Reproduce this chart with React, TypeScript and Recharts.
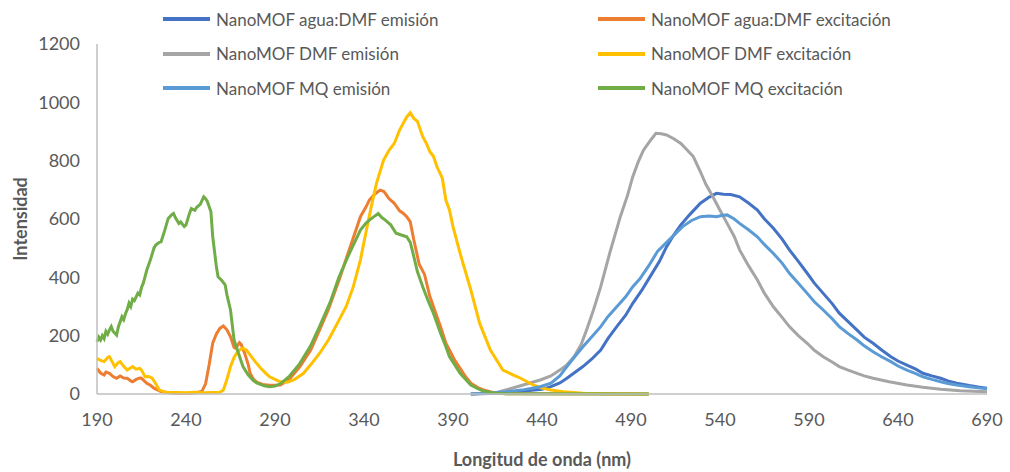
import { LineChart, Line, XAxis, YAxis, Legend } from "recharts";

// wavelength (nm) / intensity pairs
const aguaEmNm = [400, 410, 420, 430, 440, 445, 450, 454, 458, 463, 468, 473, 477, 482, 487, 491, 496, 501, 506, 510, 514, 518, 523, 529, 534, 538, 542, 546, 551, 556, 561, 565, 570, 575, 579, 584, 589, 593, 598, 603, 607, 612, 617, 621, 626, 631, 636, 640, 645, 650, 654, 659, 664, 668, 673, 680, 685, 690];
const aguaEmVal = [0, 2, 5, 10, 16, 25, 38, 54, 72, 94, 120, 151, 190, 231, 270, 311, 355, 405, 455, 505, 545, 580, 615, 654, 675, 688, 685, 684, 676, 655, 631, 600, 568, 530, 494, 455, 414, 380, 345, 310, 277, 248, 219, 195, 174, 150, 128, 113, 99, 85, 71, 62, 54, 45, 37, 29, 24, 20];

const aguaExcNm = [190, 192, 194, 195, 197, 199, 201, 203, 205, 207, 209, 210, 212, 214, 215, 217, 218, 220, 222, 224, 226, 229, 235, 240, 245, 249, 251, 253, 255, 257, 259, 261, 263, 265, 267, 268, 270, 271, 273, 275, 276, 278, 280, 283, 287, 293, 298, 304, 310, 315, 320, 326, 332, 338, 341, 343, 346, 349, 351, 352, 354, 357, 360, 362, 364, 366, 368, 371, 374, 377, 379, 383, 386, 388, 391, 394, 397, 400, 404, 407, 414, 420, 500];
const aguaExcVal = [88, 72, 65, 75, 71, 60, 54, 62, 55, 54, 45, 42, 50, 55, 54, 42, 37, 30, 20, 14, 8, 5, 2, 2, 3, 10, 35, 100, 174, 205, 225, 233, 220, 196, 160, 157, 176, 170, 139, 100, 71, 50, 40, 33, 30, 31, 50, 94, 150, 219, 290, 391, 500, 608, 640, 665, 685, 699, 695, 688, 670, 654, 628, 620, 608, 590, 528, 445, 410, 334, 300, 231, 174, 151, 115, 88, 60, 37, 22, 14, 3, 1, 0];

const dmfEmNm = [400, 405, 415, 426, 439, 445, 450, 454, 458, 462, 465, 469, 473, 478, 484, 488, 491, 494, 497, 501, 504, 507, 510, 514, 518, 521, 525, 529, 532, 536, 540, 544, 548, 551, 556, 561, 565, 570, 575, 579, 584, 589, 593, 598, 603, 607, 612, 617, 621, 626, 635, 645, 654, 664, 675, 690];
const dmfEmVal = [0, 2, 6, 25, 48, 62, 82, 100, 128, 170, 219, 290, 368, 482, 608, 680, 745, 795, 836, 870, 894, 892, 888, 875, 859, 840, 814, 762, 720, 676, 630, 585, 540, 494, 440, 391, 345, 299, 262, 231, 200, 174, 150, 128, 110, 94, 82, 71, 62, 54, 42, 31, 23, 16, 11, 8];

const dmfExcNm = [190, 192, 194, 196, 197, 199, 200, 202, 203, 205, 207, 209, 210, 212, 214, 215, 217, 219, 221, 223, 225, 227, 229, 235, 240, 245, 250, 255, 259, 261, 263, 265, 267, 269, 271, 272, 274, 276, 279, 282, 285, 287, 290, 293, 297, 301, 306, 310, 315, 320, 325, 330, 334, 338, 341, 344, 347, 351, 354, 357, 360, 362, 364, 366, 368, 370, 373, 375, 377, 379, 381, 384, 386, 388, 390, 394, 400, 405, 411, 418, 424, 428, 435, 440, 445, 452, 463, 475, 500];
const dmfExcVal = [122, 115, 111, 125, 128, 105, 94, 108, 111, 95, 82, 90, 94, 85, 88, 82, 59, 60, 54, 35, 14, 9, 6, 5, 4, 6, 4, 5, 6, 14, 50, 94, 125, 145, 155, 157, 150, 134, 110, 88, 70, 59, 50, 42, 40, 50, 71, 100, 139, 185, 242, 300, 368, 460, 551, 640, 722, 802, 835, 859, 905, 928, 950, 964, 945, 935, 882, 860, 831, 815, 779, 740, 665, 631, 574, 482, 357, 242, 151, 82, 65, 54, 31, 20, 14, 8, 3, 1, 0];

const mqEmNm = [400, 410, 420, 430, 439, 445, 450, 454, 458, 463, 468, 473, 477, 482, 487, 491, 495, 500, 505, 510, 515, 519, 524, 529, 534, 538, 541, 544, 548, 551, 556, 561, 565, 570, 575, 579, 584, 589, 593, 598, 603, 607, 612, 617, 621, 626, 631, 636, 640, 645, 650, 654, 659, 664, 668, 673, 680, 685, 690];
const mqEmVal = [0, 3, 8, 15, 25, 37, 62, 94, 125, 162, 196, 231, 265, 299, 333, 368, 395, 440, 490, 520, 550, 574, 595, 608, 610, 608, 612, 614, 600, 585, 563, 539, 512, 482, 448, 414, 380, 345, 316, 288, 258, 231, 207, 185, 165, 145, 127, 111, 96, 82, 70, 59, 50, 42, 36, 31, 25, 21, 18];

const mqExcNm = [190, 191, 192, 193, 194, 195, 196, 197, 198, 199, 201, 202, 204, 205, 206, 207, 208, 209, 210, 211, 213, 214, 215, 216, 218, 220, 222, 223, 225, 226, 228, 230, 232, 233, 234, 236, 237, 239, 240, 242, 243, 245, 246, 248, 250, 251, 252, 254, 255, 257, 258, 260, 262, 263, 265, 267, 270, 272, 275, 278, 280, 284, 287, 290, 293, 298, 304, 310, 315, 321, 326, 332, 338, 341, 343, 346, 348, 350, 352, 355, 358, 361, 364, 366, 368, 370, 373, 376, 379, 383, 386, 388, 391, 394, 400, 404, 407, 414, 420, 500];
const mqExcVal = [179, 195, 185, 200, 190, 215, 205, 220, 231, 215, 202, 230, 265, 255, 275, 290, 312, 300, 325, 320, 346, 340, 365, 380, 425, 460, 500, 511, 520, 522, 560, 602, 615, 619, 605, 585, 590, 574, 580, 620, 636, 630, 640, 650, 676, 670, 660, 625, 540, 440, 402, 390, 374, 340, 288, 185, 130, 94, 65, 45, 37, 28, 25, 27, 35, 60, 105, 165, 231, 315, 402, 485, 562, 585, 596, 610, 619, 605, 596, 580, 551, 545, 539, 520, 471, 420, 368, 320, 277, 208, 162, 128, 100, 71, 31, 18, 10, 3, 1, 0];

const xTicks = [190, 240, 290, 340, 390, 440, 490, 540, 590, 640, 690];
const yTicks = [0, 200, 400, 600, 800, 1000, 1200];

const toPoints = (nm: number[], val: number[]) => nm.map((x, i) => ({ x, y: val[i] }));

const series = [
    { name: "NanoMOF agua:DMF emisión", color: "#4472C4", data: toPoints(aguaEmNm, aguaEmVal) },
    { name: "NanoMOF agua:DMF excitación", color: "#ED7D31", data: toPoints(aguaExcNm, aguaExcVal) },
    { name: "NanoMOF DMF emisión", color: "#A5A5A5", data: toPoints(dmfEmNm, dmfEmVal) },
    { name: "NanoMOF DMF excitación", color: "#FFC000", data: toPoints(dmfExcNm, dmfExcVal) },
    { name: "NanoMOF MQ emisión", color: "#5B9BD5", data: toPoints(mqEmNm, mqEmVal) },
    { name: "NanoMOF MQ excitación", color: "#70AD47", data: toPoints(mqExcNm, mqExcVal) },
];

const FONT = "Lato, 'Open Sans', sans-serif";
const TEXT = "#595959";
const AXIS = "#BFBFBF";

// legend keeps the series order (recharts would sort it by name)
const renderLegend = () => (
    <div
        style={{
            display: "grid",
            gridTemplateColumns: "435px 320px",
            gridAutoRows: "34.5px",
            fontFamily: FONT,
            fontSize: 17,
            color: TEXT,
        }}
    >
        {series.map((s) => (
            <div key={s.name} style={{ display: "flex", alignItems: "center" }}>
                <span
                    style={{
                        display: "inline-block",
                        width: 47,
                        height: 4,
                        background: s.color,
                        marginRight: 6,
                    }}
                />
                <span>{s.name}</span>
            </div>
        ))}
    </div>
);

export default function App() {
    return (
        <div style={{ position: "absolute", left: 0, top: 0, width: 1010, height: 472, background: "#fff" }}>
            <LineChart width={1010} height={472} margin={{ top: 44, right: 23, bottom: 6, left: 0 }}>
                <XAxis
                    dataKey="x"
                    type="number"
                    domain={[190, 690]}
                    ticks={xTicks}
                    height={72}
                    stroke={AXIS}
                    strokeWidth={1.5}
                    tickLine={false}
                    tickMargin={13}
                    tick={{ fill: TEXT, fontSize: 18, fontFamily: FONT }}
                    label={{
                        value: "Longitud de onda (nm)",
                        position: "insideBottom",
                        offset: 0,
                        style: { fill: TEXT, fontSize: 18, fontWeight: 700, fontFamily: FONT },
                    }}
                />
                <YAxis
                    type="number"
                    domain={[0, 1200]}
                    ticks={yTicks}
                    width={97}
                    stroke={AXIS}
                    strokeWidth={1.5}
                    tickLine={false}
                    tickMargin={11}
                    tick={{ fill: TEXT, fontSize: 18, fontFamily: FONT }}
                    label={{
                        value: "Intensidad",
                        angle: -90,
                        position: "insideLeft",
                        offset: 21,
                        style: { fill: TEXT, fontSize: 18, fontWeight: 700, fontFamily: FONT, textAnchor: "middle" },
                    }}
                />
                <Legend
                    verticalAlign="middle"
                    align="center"
                    layout="horizontal"
                    content={renderLegend}
                    wrapperStyle={{ top: 2, left: 163, width: 760 }}
                />
                {series.map((s) => (
                    <Line
                        key={s.name}
                        data={s.data}
                        dataKey="y"
                        name={s.name}
                        type="linear"
                        stroke={s.color}
                        strokeWidth={3}
                        dot={false}
                        activeDot={false}
                        isAnimationActive={false}
                    />
                ))}
            </LineChart>
        </div>
    );
}
